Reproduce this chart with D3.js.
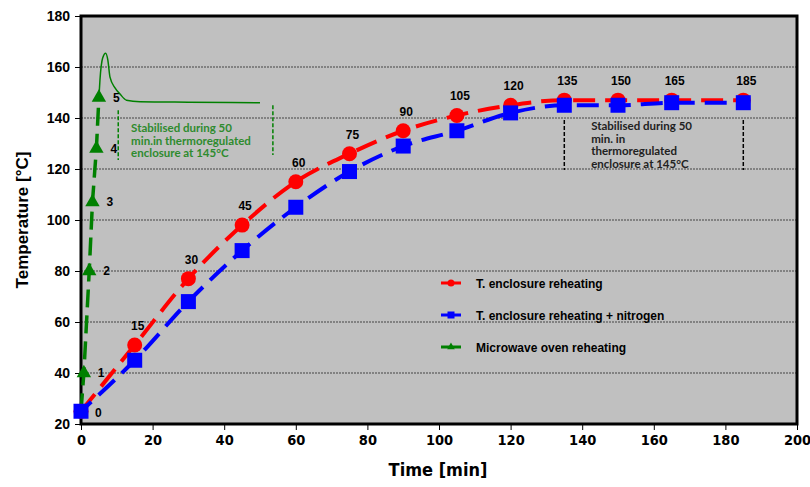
<!DOCTYPE html>
<html>
<head>
<meta charset="utf-8">
<script src="https://cdn.jsdelivr.net/npm/d3@7"></script>
<style>
  body { margin: 0; background: #fff; }
  svg text { font-family: "Liberation Sans", Arial, sans-serif; }
</style>
</head>
<body>
<div id="chart"></div>
<script>
// sampling times (min)
var enclosureTimes = [0, 15, 30, 45, 60, 75, 90, 105, 120, 135, 150, 165, 185];
var enclosureTemp = [25, 51, 77, 98, 115, 126, 135, 141, 145, 147, 147, 147, 147];
var nitrogenTemp = [25, 45, 68, 88, 105, 119, 129, 135, 142, 145, 145, 146, 146];
var timeLabels = ["0", "15", "30", "45", "60", "75", "90", "105", "120", "135", "150", "165", "185"];

var microwaveTimes = [0, 0.8, 2.3, 3.2, 4.3, 5];
var microwaveTemp = [25, 40, 80, 107, 128, 148];
var microwaveLabels = ["0", "1", "2", "3", "4", "5"];

// thin green trace after the oven, in the thermoregulated enclosure
var stabTimes = [5, 5.3, 6.05, 6.9, 7.5, 8.1, 9.5, 10.9, 12.7, 16.5, 30, 50];
var stabTemp = [148, 155, 163.5, 165.4, 162.7, 156, 151.8, 149.4, 147, 146.4, 146.2, 146];

var xTicks = [0, 20, 40, 60, 80, 100, 120, 140, 160, 180, 200];
var yTicks = [20, 40, 60, 80, 100, 120, 140, 160, 180];
var seriesNames = ["T. enclosure reheating", "T. enclosure reheating + nitrogen", "Microwave oven reheating"];

var RED = "#ff0000", BLUE = "#0000ff", GREEN = "#008000";
var NARROW = "'DejaVu Sans Condensed', 'Liberation Sans Narrow', 'Arial Narrow', sans-serif";

var width = 810, height = 487;
var margin = { top: 16, right: 13, bottom: 63, left: 81 };
var w = width - margin.left - margin.right,
    h = height - margin.top - margin.bottom;

var svg = d3.select("#chart").append("svg")
    .attr("width", width)
    .attr("height", height);

var x = d3.scaleLinear().domain([0, 200]).range([0, w]);
var y = d3.scaleLinear().domain([20, 180]).range([h, 0]);

var g = svg.append("g")
    .attr("transform", "translate(" + margin.left + "," + margin.top + ")");

// plot background
g.append("rect")
    .attr("width", w).attr("height", h)
    .attr("fill", "#c0c0c0");

// dotted grid
g.selectAll(".grid")
    .data(yTicks.filter(function (d) { return d > 20 && d < 180; }))
    .enter().append("line")
    .attr("x1", 0).attr("x2", w)
    .attr("y1", function (d) { return y(d); })
    .attr("y2", function (d) { return y(d); })
    .attr("stroke", "#444")
    .attr("stroke-width", 1)
    .attr("stroke-dasharray", "2,1");

// axes
var xAxis = g.append("g")
    .attr("transform", "translate(0," + h + ")")
    .call(d3.axisBottom(x).tickValues(xTicks).tickSize(6).tickPadding(5));
xAxis.selectAll("text")
    .style("font-family", NARROW)
    .style("font-stretch", "condensed")
    .style("font-weight", "bold")
    .style("font-size", "14.5px")
    .attr("fill", "#000");

var yAxis = g.append("g")
    .call(d3.axisLeft(y).tickValues(yTicks).tickSize(6).tickPadding(5));
yAxis.selectAll("text")
    .style("font-weight", "bold")
    .style("font-size", "14px")
    .attr("fill", "#000");
g.selectAll(".domain").remove();

// frame
g.append("rect")
    .attr("width", w).attr("height", h)
    .attr("fill", "none")
    .attr("stroke", "#000")
    .attr("stroke-width", 3);

// annotation: green, thermoregulated enclosure after oven
var ann = g.append("g");
[[10.4, 143, 123.5], [53.6, 145, 125.5]].forEach(function (d) {
    ann.append("line")
        .attr("x1", x(d[0])).attr("x2", x(d[0]))
        .attr("y1", y(d[1])).attr("y2", y(d[2]))
        .attr("stroke", GREEN).attr("stroke-width", 1.5)
        .attr("stroke-dasharray", "4,2");
});
var greenNote = ann.append("text")
    .attr("y", y(134.5))
    .attr("fill", "#2e8b2e")
    .style("font-family", "Lato, 'Open Sans', sans-serif")
    .style("font-weight", "bold")
    .style("font-size", "11.5px");
["Stabilised during 50", "min.in thermoregulated", "enclosure at 145°C"].forEach(function (s, i) {
    greenNote.append("tspan").attr("x", x(14.0)).attr("dy", i === 0 ? 0 : 12.7).text(s);
});

// annotation: black, right side
[135, 185].forEach(function (t) {
    ann.append("line")
        .attr("x1", x(t)).attr("x2", x(t))
        .attr("y1", y(139.2)).attr("y2", y(119.6))
        .attr("stroke", "#000").attr("stroke-width", 1.5)
        .attr("stroke-dasharray", "4,2");
});
var blackNote = ann.append("text")
    .attr("y", y(135.3))
    .attr("fill", "#222")
    .style("font-family", "Lato, 'Open Sans', sans-serif")
    .style("font-weight", "bold")
    .style("font-size", "11.5px");
["Stabilised during 50", "min. in", "thermoregulated", "enclosure at 145°C"].forEach(function (s, i) {
    blackNote.append("tspan").attr("x", x(142.5)).attr("dy", i === 0 ? 0 : 12.7).text(s);
});

var line = d3.line()
    .x(function (d) { return x(d[0]); })
    .y(function (d) { return y(d[1]); })
    .curve(d3.curveMonotoneX);

var redData = enclosureTimes.map(function (t, i) { return [t, enclosureTemp[i]]; });
var blueData = enclosureTimes.map(function (t, i) { return [t, nitrogenTemp[i]]; });
var greenData = microwaveTimes.map(function (t, i) { return [t, microwaveTemp[i]]; });
var stabData = stabTimes.map(function (t, i) { return [t, stabTemp[i]]; });

// thin trace
g.append("path")
    .datum(stabData)
    .attr("d", line)
    .attr("fill", "none")
    .attr("stroke", GREEN)
    .attr("stroke-width", 1.5);

// green oven line
g.append("path")
    .datum(greenData)
    .attr("d", d3.line().x(function (d) { return x(d[0]); }).y(function (d) { return y(d[1]); }))
    .attr("fill", "none")
    .attr("stroke", GREEN)
    .attr("stroke-width", 3.5)
    .attr("stroke-dasharray", "18,8");

g.append("path")
    .datum(redData)
    .attr("d", line)
    .attr("fill", "none")
    .attr("stroke", RED)
    .attr("stroke-width", 4)
    .attr("stroke-dasharray", "22,10");

g.append("path")
    .datum(blueData)
    .attr("d", line)
    .attr("fill", "none")
    .attr("stroke", BLUE)
    .attr("stroke-width", 4)
    .attr("stroke-dasharray", "22,10")
    .attr("stroke-dashoffset", 8);

var triangle = d3.symbol().type(d3.symbolTriangle).size(90);

// markers
g.selectAll(".red-pt")
    .data(redData)
    .enter().append("circle")
    .attr("cx", function (d) { return x(d[0]); })
    .attr("cy", function (d) { return y(d[1]); })
    .attr("r", 7.5)
    .attr("fill", RED);

g.selectAll(".blue-pt")
    .data(blueData)
    .enter().append("rect")
    .attr("x", function (d) { return x(d[0]) - 7.5; })
    .attr("y", function (d) { return y(d[1]) - 7.5; })
    .attr("width", 15).attr("height", 15)
    .attr("fill", BLUE);

g.selectAll(".green-pt")
    .data(greenData.slice(1))
    .enter().append("path")
    .attr("d", triangle)
    .attr("transform", function (d) { return "translate(" + x(d[0]) + "," + y(d[1]) + ")"; })
    .attr("fill", GREEN);

// point labels
g.selectAll(".red-lbl")
    .data(redData.slice(1))
    .enter().append("text")
    .attr("x", function (d) { return x(d[0]) + 3; })
    .attr("y", function (d) { return y(d[1]) - 15; })
    .attr("text-anchor", "middle")
    .style("font-weight", "bold")
    .style("font-size", "12px")
    .text(function (d, i) { return timeLabels[i + 1]; });

g.selectAll(".green-lbl")
    .data(greenData)
    .enter().append("text")
    .attr("x", function (d) { return x(d[0]) + 14; })
    .attr("y", function (d, i) { return y(d[1]) + (i === 0 ? 6 : 4); })
    .attr("text-anchor", "start")
    .style("font-weight", "bold")
    .style("font-size", "12px")
    .text(function (d, i) { return microwaveLabels[i]; });

// legend
var legend = g.append("g").attr("transform", "translate(" + (441 - margin.left) + "," + (283 - margin.top) + ")");
var legColors = [RED, BLUE, GREEN];
seriesNames.forEach(function (name, i) {
    var row = legend.append("g").attr("transform", "translate(0," + (i * 32) + ")");
    row.append("line")
        .attr("x1", 0).attr("x2", 20).attr("y1", 0).attr("y2", 0)
        .attr("stroke", legColors[i]).attr("stroke-width", 3);
    if (i === 0) {
        row.append("circle").attr("cx", 10).attr("cy", 0).attr("r", 3.5).attr("fill", RED);
    } else if (i === 1) {
        row.append("rect").attr("x", 6.5).attr("y", -3.5).attr("width", 7).attr("height", 7).attr("fill", BLUE);
    } else {
        row.append("path").attr("d", d3.symbol().type(d3.symbolTriangle).size(25))
            .attr("transform", "translate(10,0)").attr("fill", GREEN);
    }
    row.append("text")
        .attr("x", 35).attr("y", 4.5)
        .style("font-weight", "bold")
        .style("font-size", "12px")
        .text(name);
});

// axis titles
svg.append("text")
    .attr("x", margin.left + w / 2 - 1)
    .attr("y", 476)
    .attr("text-anchor", "middle")
    .style("font-family", NARROW)
    .style("font-stretch", "condensed")
    .style("font-weight", "bold")
    .style("font-size", "18px")
    .text("Time [min]");

svg.append("text")
    .attr("transform", "translate(28,220) rotate(-90)")
    .attr("text-anchor", "middle")
    .style("font-weight", "bold")
    .style("font-size", "17px")
    .text("Temperature [°C]");
</script>
</body>
</html>
